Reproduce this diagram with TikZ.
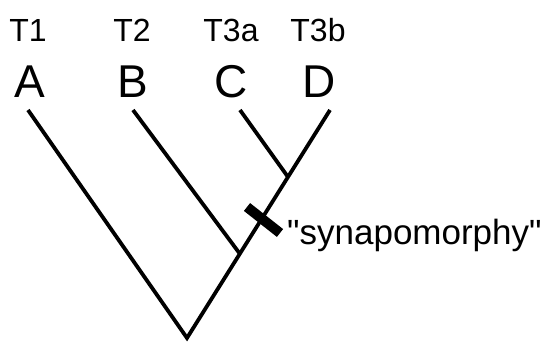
\documentclass[tikz,border=0pt]{standalone}
\usepackage{fontspec}
\setmainfont[Ligatures=TeXOff]{Liberation Sans}
\begin{document}
\begin{tikzpicture}[x=1pt,y=-1pt,
  branch/.style={line width=3.8pt},
  tick/.style={line width=10pt},
  taxon/.style={font=\fontsize{32}{34}\selectfont, anchor=base, inner sep=0pt},
  letter/.style={font=\fontsize{46}{48}\selectfont, anchor=base, inner sep=0pt},
  lbl/.style={font=\fontsize{35}{37}\selectfont, anchor=base west, inner sep=0pt}]
\useasboundingbox (0,0) rectangle (547,344);
% taxon labels
\node[taxon] (t1) at (28,42) {T1};
\node[taxon] (t2) at (132,42) {T2};
\node[taxon] (t3a) at (231,42) {T3a};
\node[taxon] (t3b) at (318,42) {T3b};
\node[letter] (A) at (30,98) {A};
\node[letter] (B) at (133,98) {B};
\node[letter] (C) at (231,98) {C};
\node[letter] (D) at (319,98) {D};
% tree coordinates
\coordinate (root) at (187,338);
\coordinate (tA) at (28,110);
\coordinate (tB) at (133,110);
\coordinate (tC) at (240,110);
\coordinate (tD) at (330,110);
\coordinate (jB) at (240,254);
\coordinate (jC) at (288,177);
\draw[branch] (tA) -- (root) -- (tD);
\draw[branch] (tB) -- (jB);
\draw[branch] (tC) -- (jC);
% synapomorphy mark
\coordinate (m1) at (247,207);
\coordinate (m2) at (280,233);
\draw[tick] (m1) -- (m2);
\node[lbl] (syn) at (287,245) {"synapomorphy"};
\end{tikzpicture}
\end{document}
